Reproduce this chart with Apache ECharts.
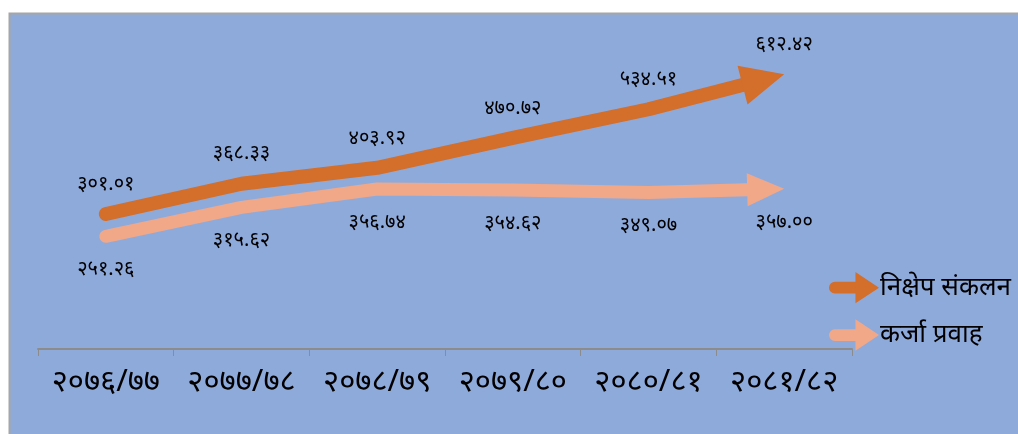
<!DOCTYPE html>
<html>
<head>
<meta charset="utf-8">
<script src="https://cdn.jsdelivr.net/npm/echarts@6/dist/echarts.min.js"></script>
<style>
html,body{margin:0;padding:0;background:#fff;}
#c{width:1018px;height:434px;}
</style>
</head>
<body>
<div id="c"></div>
<script>
const categories = ['२०७६/७७','२०७७/७८','२०७८/७९','२०७९/८०','२०८०/८१','२०८१/८२'];
const depositName = 'निक्षेप संकलन';
const loanName = 'कर्जा प्रवाह';
const depositValues = [301.01, 368.33, 403.92, 470.72, 534.51, 612.42];
const loanValues = [251.26, 315.62, 356.74, 354.62, 349.07, 357.00];

const DEV = '०१२३४५६७८९';
function toDev(s){ return String(s).replace(/[0-9]/g, d => DEV[+d]); }

const FONT = '"Noto Sans", "DejaVu Sans", sans-serif';

function makeRender(vals, color, width, headLen, headW, labelOffset){
  return function(params, api){
    const i = params.dataIndex;
    const p = api.coord([i, vals[i]]);
    const children = [{
      type:'text',
      x: p[0], y: p[1] + labelOffset,
      style:{text: toDev(vals[i].toFixed(2)), fill:'#000', font:'20px ' + FONT, align:'center', verticalAlign:'middle'},
      z2: 10
    }];
    if (i === vals.length - 1){
      const pts = vals.map((v,k)=>api.coord([k, v]));
      const n = pts.length;
      const tip = pts[n-1], prev = pts[n-2];
      const dx = tip[0]-prev[0], dy = tip[1]-prev[1];
      const L = Math.hypot(dx, dy);
      const ux = dx/L, uy = dy/L;
      const base = [tip[0]-ux*headLen, tip[1]-uy*headLen];
      const linePts = pts.slice(0, n-1).concat([base]);
      children.push({
        type:'polyline', shape:{points: linePts},
        style:{stroke: color, lineWidth: width, lineCap:'round', lineJoin:'round', fill: null}
      });
      children.push({
        type:'polygon',
        shape:{points:[tip, [base[0]-uy*headW/2, base[1]+ux*headW/2], [base[0]+uy*headW/2, base[1]-ux*headW/2]]},
        style:{fill: color}
      });
    }
    return {type:'group', children};
  };
}

const ORANGE = '#d36e2b';
const PINK = '#f0a889';
const arrowIcon = 'path://M5,10 L26,10 L26,0 L50,16 L26,32 L26,22 L5,22 A6,6 0 0 1 5,10 Z';

const chart = echarts.init(document.getElementById('c'), null, {renderer:'canvas'});
chart.setOption({
  backgroundColor:'#ffffff',
  animation:false,
  graphic:[{
    type:'rect', z:-10, silent:true,
    shape:{x:9.5, y:13.5, width:1020, height:430},
    style:{fill:'#8eaadb', stroke:'#a6a6a6', lineWidth:2}
  }],
  grid:{left:38, right:166, top:35, bottom:85},
  legend:{
    orient:'vertical', left:824, top:267, itemGap:16,
    itemWidth:50, itemHeight:32,
    textStyle:{color:'#000', fontSize:26, fontFamily:FONT, padding:[0,0,0,-4]},
    selectedMode:false,
    data:[{name:depositName, icon:arrowIcon, itemStyle:{color:ORANGE}},
          {name:loanName, icon:arrowIcon, itemStyle:{color:PINK}}]
  },
  xAxis:{
    type:'category', data:categories, boundaryGap:true,
    axisLine:{lineStyle:{color:'#8c8c8c', width:2}},
    axisTick:{show:true, length:7, lineStyle:{color:'#8c8c8c', width:1}},
    axisLabel:{color:'#000', fontSize:31, fontFamily:FONT, margin:18, interval:0}
  },
  yAxis:{type:'value', min:0, max:700, show:false, splitLine:{show:false}},
  series:[
    {name:depositName, type:'custom', itemStyle:{color:ORANGE},
     renderItem: makeRender(depositValues, ORANGE, 14, 43, 40, -30),
     data: depositValues.map((v,i)=>[i, v]), z:3},
    {name:loanName, type:'custom', itemStyle:{color:PINK},
     renderItem: makeRender(loanValues, PINK, 13, 37, 33, 33),
     data: loanValues.map((v,i)=>[i, v]), z:2}
  ]
});
</script>
</body>
</html>
